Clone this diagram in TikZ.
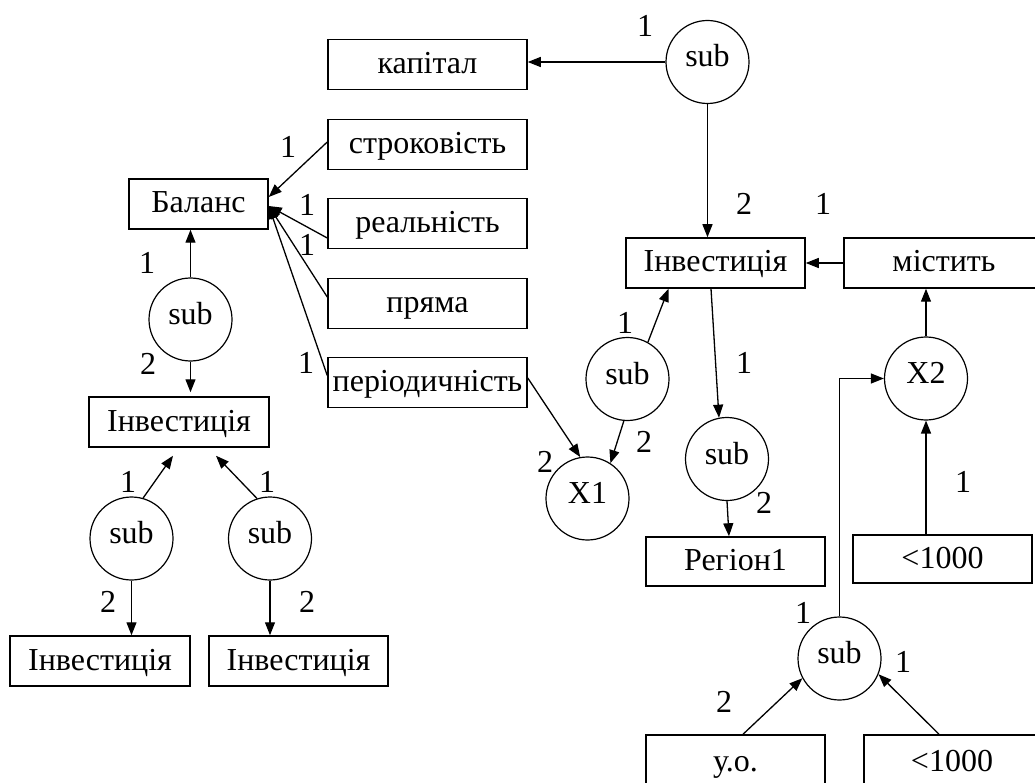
\documentclass[tikz,border=0pt]{standalone}
\usepackage{fontspec}
\setmainfont{Liberation Serif}
\usetikzlibrary{arrows.meta}
\tikzset{
  box/.style={draw, line width=1.5pt, inner sep=0pt, minimum width=179pt, minimum height=50pt, text height=23pt, text depth=5pt, font=\fontsize{32}{37}\selectfont},
  circ/.style={draw, circle, line width=1.2pt, inner sep=0pt, minimum size=83pt, text height=18pt, text depth=8pt, font=\fontsize{32}{37}\selectfont},
  lab/.style={inner sep=0pt, font=\fontsize{32}{37}\selectfont},
  arr/.style={line width=1.3pt, -{Triangle[length=13pt,width=10pt]}}
}
\begin{document}
\begin{tikzpicture}[x=1pt,y=-1pt]
\useasboundingbox (0,0) rectangle (1035,783);
\clip (0,0) rectangle (1035,783);
% boxes
\node[box, minimum width=199pt] (kap) at (427.5,64.5) {капітал};
\node[box, minimum width=199pt] (strok) at (427.5,144.5) {строковість};
\node[box, minimum width=199pt] (real) at (427.5,223.5) {реальність};
\node[box, minimum width=199pt] (prama) at (427.5,303.5) {пряма};
\node[box, minimum width=199pt] (period) at (427.5,382.5) {періодичність};
\node[box, minimum width=139pt] (bal) at (198.5,204) {Баланс};
\node[box, minimum width=180pt] (invA) at (179,422) {Інвестиція};
\node[box, minimum width=180pt] (invB) at (100,661) {Інвестиція};
\node[box] (invC) at (298.5,661) {Інвестиція};
\node[box] (invR) at (715.5,263) {Інвестиція};
\node[box, minimum width=200pt] (mist) at (944,263) {містить};
\node[box, minimum height=49pt] (reg) at (735.5,561.5) {Регіон1};
\node[box, minimum height=48pt] (lt1) at (942.5,559) {<1000};
\node[box, minimum height=54pt] (uo) at (735.5,762) {у.о.};
\node[box, minimum width=176pt, minimum height=54pt] (lt2) at (952,762) {<1000};
% circles
\node[circ] (subA) at (190.5,319.5) {sub};
\node[circ] (subB) at (131.5,538.5) {sub};
\node[circ] (subC) at (270,538.5) {sub};
\node[circ] (subTop) at (707.5,62) {sub};
\node[circ] (subM) at (627.5,379) {sub};
\node[circ] (x1) at (587.5,498.5) {X1};
\node[circ] (subR) at (727,459) {sub};
\node[circ] (x2) at (926,378.5) {X2};
\node[circ] (subBot) at (839.5,658.5) {sub};
% connectors left
\draw[arr] ([yshift=2.5pt]strok.west) -- ([yshift=7pt]bal.east);
\draw[arr] ([yshift=-14.5pt]real.west) -- ([yshift=-2pt]bal.east);
\draw[arr] ([yshift=6.5pt]prama.west) -- ([yshift=-2pt]bal.east);
\draw[arr] ([yshift=7pt]period.west) -- ([yshift=-2pt]bal.east);
\draw[arr] (subA.north) -- (subA.north |- bal.south);
\draw[arr] (subA.south) -- ([yshift=4pt]subA.south |- invA.north);
\draw[arr] (subB.74) -- ([xshift=-6pt,yshift=-8pt]invA.south);
\draw[arr] (subC.108) -- ([xshift=37pt,yshift=-8pt]invA.south);
\draw[arr] (subB.south) -- (subB.south |- invB.north);
\draw[arr] (subC.south) -- (subC.south |- invC.north);
% connectors right
\draw[arr] (subTop.west) -- (kap.east |- subTop.west);
\draw[arr] (subTop.south) -- (subTop.south |- invR.north);
\draw[arr] (mist.west) -- (invR.east);
\draw[arr] (subM.61) -- ([xshift=-47pt]invR.south);
\draw[arr] (subM.-95) -- (x1.57);
\draw[arr] ([yshift=4.5pt]period.east) -- (x1.100);
\draw[arr] ([xshift=-4.5pt]invR.south) -- (subR.101);
\draw[arr] (subR.south) -- ([xshift=-6.5pt]reg.north);
\draw[arr] (x2.north) -- (x2.north |- mist.south);
\draw[arr] (x2.south |- lt1.north) -- (x2.south);
\draw[arr] (subBot.north) |- (x2.west);
\draw[arr] ([xshift=7.5pt]uo.north) -- (subBot.208);
\draw[arr] ([xshift=-13pt]lt2.north) -- (subBot.-22);
% labels
\node[lab] (l1) at (288,147) {1};
\node[lab] (l2) at (307,205) {1};
\node[lab] (l3) at (307,245) {1};
\node[lab] (l4) at (306,363) {1};
\node[lab] (l5) at (147,263) {1};
\node[lab] (l6) at (148,364) {2};
\node[lab] (l7) at (128,482) {1};
\node[lab] (l8) at (267,482) {1};
\node[lab] (l9) at (108,602) {2};
\node[lab] (l10) at (307,602) {2};
\node[lab] (l11) at (645,26) {1};
\node[lab] (l12) at (744,204) {2};
\node[lab] (l13) at (823,204) {1};
\node[lab] (l14) at (625,323) {1};
\node[lab] (l15) at (644,442) {2};
\node[lab] (l16) at (545,462) {2};
\node[lab] (l17) at (744,363) {1};
\node[lab] (l18) at (764,503) {2};
\node[lab] (l19) at (963,482) {1};
\node[lab] (l20) at (803,613) {1};
\node[lab] (l21) at (903,662) {1};
\node[lab] (l22) at (724,702) {2};
\end{tikzpicture}
\end{document}
